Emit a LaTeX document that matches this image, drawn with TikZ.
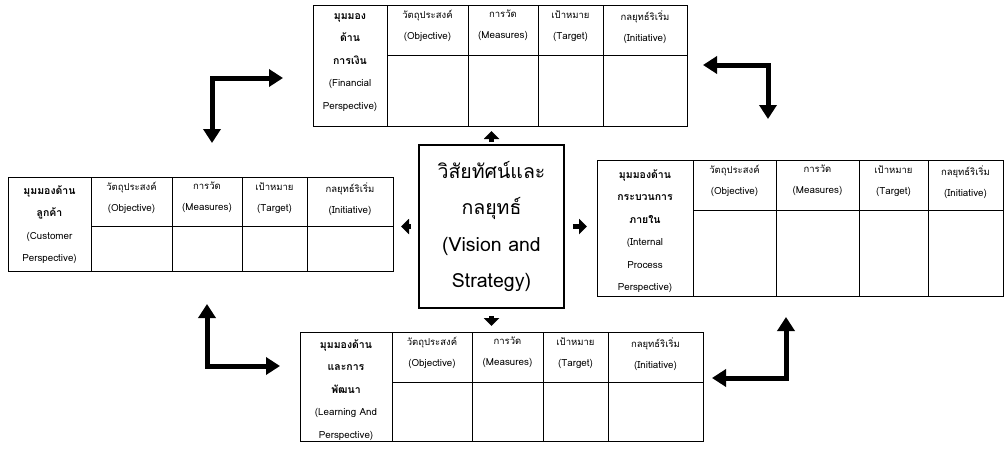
\documentclass[tikz,border=0pt]{standalone}
\usepackage{fontspec}
\usetikzlibrary{arrows.meta}
\newfontfamily\thaifont[Script=Thai]{Loma}
\newcommand{\eng}{\mdseries\fontsize{9.8}{22.5}\selectfont}

\tikzset{every picture/.style={line width=0.75pt}}
\tikzset{
  frame/.style={draw, line width=1pt, anchor=north west, inner sep=0pt},
  headtext/.style={font=\thaifont\fontsize{9.5}{21}\selectfont, align=center, anchor=north, inner sep=0pt},
  sidetext/.style={font=\thaifont\bfseries\fontsize{10.5}{22.5}\selectfont, align=center, anchor=north, inner sep=0pt},
  vision/.style={draw, line width=1.6pt, align=center, inner sep=0pt, font=\thaifont\fontsize{19.5}{36.5}\selectfont},
  smallarrow/.style={line width=5pt, -{Triangle[width=15pt,length=8pt]}},
  bendarrow/.style={line width=5pt, line join=miter, {Triangle[width=17pt,length=14pt]}-{Triangle[width=17pt,length=14pt]}}
}

% header cells: prefix, five column borders, top
\newcommand{\headrow}[7]{%
  \node[headtext] (#1-obj) at ({(#2+#3)/2},#7+5) {วัตถุประสงค์\\\eng(Objective)};
  \node[headtext] (#1-mea) at ({(#3+#4)/2},#7+5) {การวัด\\\eng(Measures)};
  \node[headtext] (#1-tar) at ({(#4+#5)/2},#7+5) {เป้าหมาย\\\eng(Target)};
  \node[headtext] (#1-ini) at ({(#5+#6)/2},#7+5) {กลยุทธ์ริเริ่ม\\\eng(Initiative)};
}

\begin{document}
\begin{tikzpicture}[x=1pt,y=-1pt]
\fill[white] (0,0) rectangle (1005,450);
\useasboundingbox (0,0) rectangle (1005,450);

% financial
\node[frame, minimum width=374, minimum height=121] (fin) at (313,5) {};
\draw (387,55) -- (687,55);
\foreach \x in {387,468,538,603} \draw (\x,5) -- (\x,126);
\headrow{fin}{387}{468}{538}{603}{687}{5}
\node[sidetext] (fin-label) at (350,13) {มุมมอง\\ด้าน\\การเงิน\\\eng(Financial\\\eng Perspective)};

% customer
\node[frame, minimum width=385, minimum height=94] (cust) at (8,177) {};
\draw (91,226) -- (393,226);
\foreach \x in {91,172,242,307} \draw (\x,177) -- (\x,271);
\headrow{cust}{91}{172}{242}{307}{393}{177}
\node[sidetext] (cust-label) at (49.5,185) {มุมมองด้าน\\ลูกค้า\\\eng(Customer\\\eng Perspective)};

% internal process
\node[frame, minimum width=406, minimum height=136] (intl) at (597,160) {};
\draw (693,210) -- (1003,210);
\foreach \x in {693,776,859,928} \draw (\x,160) -- (\x,296);
\headrow{intl}{693}{776}{859}{928}{1003}{160}
\node[sidetext] (intl-label) at (645,169) {มุมมองด้าน\\กระบวนการ\\ภายใน\\\eng(Internal\\\eng Process\\\eng Perspective)};

% learning
\node[frame, minimum width=403, minimum height=109] (learn) at (300,332) {};
\draw (392,382) -- (703,382);
\foreach \x in {392,472,543,608} \draw (\x,332) -- (\x,441);
\headrow{learn}{392}{472}{543}{608}{703}{332}
\node[sidetext] (learn-label) at (346,339) {มุมมองด้าน\\และการ\\พัฒนา\\\eng(Learning And\\\eng Perspective)};

% vision
\node[vision, minimum width=145, minimum height=163] (vision) at (491.5,226.5) {วิสัยทัศน์และ\\กลยุทธ์\\(Vision and\\Strategy)};

\draw[smallarrow, shorten <=2pt, shorten >=4pt] (vision.north) -- (vision.north |- fin.south);
\draw[smallarrow, shorten <=7pt, shorten >=7pt] (vision.west) -- (vision.west -| cust.east);
\draw[smallarrow, shorten <=8pt, shorten >=10pt] (vision.east) -- (vision.east -| intl.west);
\draw[smallarrow, shorten <=7pt, shorten >=6pt] (vision.south) -- (vision.south |- learn.north);

% corner arrows
\coordinate (nw-a) at (283,78);
\coordinate (nw-b) at (212,143);
\coordinate (ne-a) at (703,65);
\coordinate (ne-b) at (768,119);
\coordinate (sw-a) at (207,304);
\coordinate (sw-b) at (280,366);
\coordinate (se-a) at (786,317);
\coordinate (se-b) at (712,378);
\draw[bendarrow] (nw-a) -| (nw-b);
\draw[bendarrow] (ne-a) -| (ne-b);
\draw[bendarrow] (sw-a) |- (sw-b);
\draw[bendarrow] (se-a) |- (se-b);
\end{tikzpicture}
\end{document}
